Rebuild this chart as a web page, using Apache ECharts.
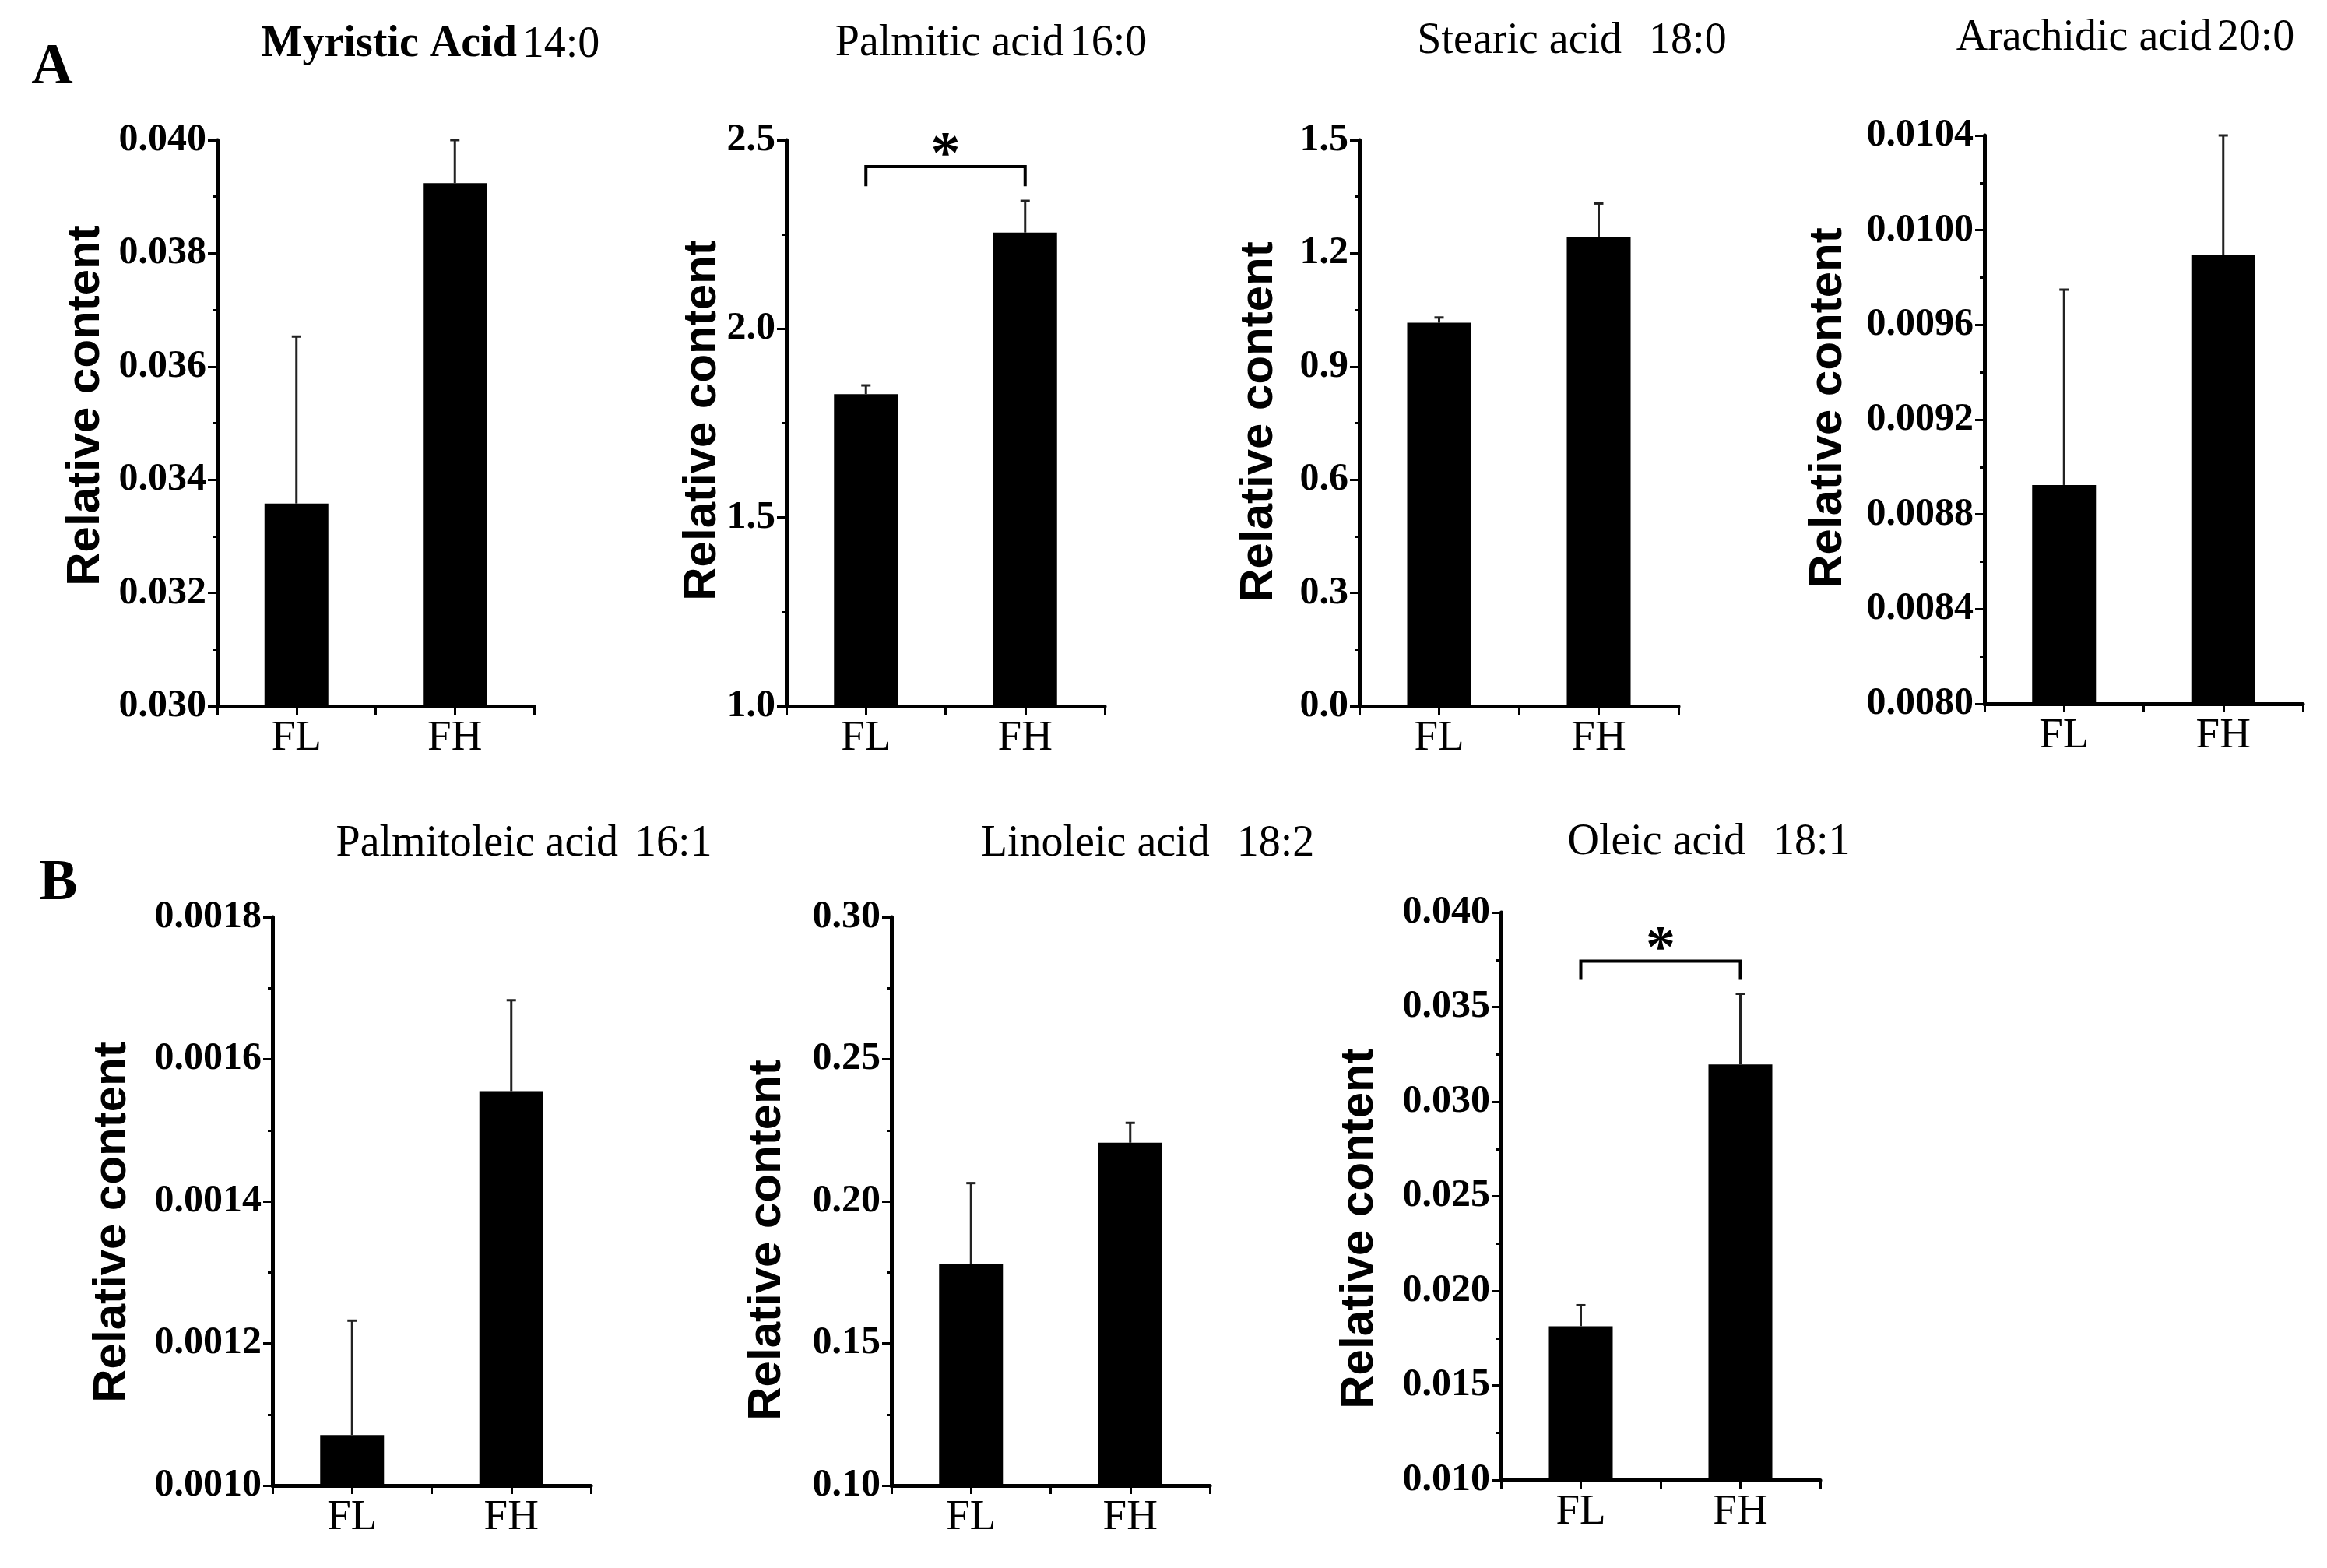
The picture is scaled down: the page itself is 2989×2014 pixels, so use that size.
<!DOCTYPE html>
<html>
<head>
<meta charset="utf-8">
<script src="https://cdn.jsdelivr.net/npm/echarts@6/dist/echarts.min.js"></script>
<style>
html, body { margin: 0; padding: 0; background: #fff; }
#main { width: 2989px; height: 2014px; }
</style>
</head>
<body>
<div id="main"></div>
<script>
// data
var categories = ['FL', 'FH'];
var catPos = [0.5, 1.5];

var myristic = [0.03358, 0.03924];
var myristicErr = [0.00295, 0.00076];
var palmitic = [1.827, 2.255];
var palmiticErr = [0.023, 0.084];
var stearic = [1.016, 1.244];
var stearicErr = [0.014, 0.088];
var arachidic = [0.008924, 0.009897];
var arachidicErr = [0.000825, 0.000503];
var palmitoleic = [0.001071, 0.001555];
var palmitoleicErr = [0.000161, 0.000128];
var linoleic = [0.1779, 0.2206];
var linoleicErr = [0.0285, 0.0070];
var oleic = [0.01813, 0.03197];
var oleicErr = [0.00111, 0.00373];

// significance brackets: [from, to, bracket value, leg end value]
var palmiticSig = [0.5, 1.5, 2.430, 2.378];
var oleicSig = [0.5, 1.5, 0.03743, 0.03644];

// axis ranges: [min, max, interval, decimals]
var myristicAxis = [0.030, 0.040, 0.002, 3];
var palmiticAxis = [1.0, 2.5, 0.5, 1];
var stearicAxis = [0.0, 1.5, 0.3, 1];
var arachidicAxis = [0.0080, 0.0104, 0.0004, 4];
var palmitoleicAxis = [0.0010, 0.0018, 0.0002, 4];
var linoleicAxis = [0.10, 0.30, 0.05, 2];
var oleicAxis = [0.010, 0.040, 0.005, 3];

var yName = 'Relative content';

var panels = [
    {name: 'Myristic Acid', ratio: '14:0', sep: '', bold: true, vals: myristic, errs: myristicErr, axis: myristicAxis, sig: null,
     grid: [279, 180, 407, 727], label: [110, 521], title: [553, 77]},
    {name: 'Palmitic acid', ratio: '16:0', sep: '', vals: palmitic, errs: palmiticErr, axis: palmiticAxis, sig: palmiticSig,
     grid: [1010, 180, 409, 727], label: [902, 540], title: [1273, 75]},
    {name: 'Stearic acid', ratio: '18:0', sep: '  ', vals: stearic, errs: stearicErr, axis: stearicAxis, sig: null,
     grid: [1746, 180, 410, 727], label: [1617, 542], title: [2019, 72]},
    {name: 'Arachidic acid', ratio: '20:0', sep: '', vals: arachidic, errs: arachidicErr, axis: arachidicAxis, sig: null,
     grid: [2549, 174, 409, 730], label: [2348, 524], title: [2730, 68]},
    {name: 'Palmitoleic acid', ratio: '16:1', sep: ' ', vals: palmitoleic, errs: palmitoleicErr, axis: palmitoleicAxis, sig: null,
     grid: [350, 1178, 409, 730], label: [144, 1570], title: [673, 1103]},
    {name: 'Linoleic acid', ratio: '18:2', sep: '  ', vals: linoleic, errs: linoleicErr, axis: linoleicAxis, sig: null,
     grid: [1145, 1178, 409, 730], label: [985, 1593], title: [1474, 1103]},
    {name: 'Oleic acid', ratio: '18:1', sep: '  ', vals: oleic, errs: oleicErr, axis: oleicAxis, sig: oleicSig,
     grid: [1928, 1172, 410, 729], label: [1746, 1578], title: [2195, 1101]}
];

var serif = '"Liberation Serif", "Times New Roman", serif';
var sans = '"Liberation Sans", Arial, sans-serif';

var grids = [], xAxes = [], yAxes = [], series = [], graphics = [];

panels.forEach(function (p, i) {
    grids.push({
        left: p.grid[0], top: p.grid[1], width: p.grid[2], height: p.grid[3],
        outerBoundsMode: 'none'
    });
    xAxes.push({
        type: 'value', gridIndex: i, min: 0, max: 2, interval: 0.5,
        axisLine: {onZero: false, lineStyle: {color: '#000', width: 5}},
        axisTick: {show: true, length: 11, lineStyle: {color: '#000', width: 3}},
        splitLine: {show: false},
        axisLabel: {
            margin: 14, color: '#000', fontFamily: serif, fontSize: 55,
            formatter: function (v) {
                var k = catPos.indexOf(v);
                return k >= 0 ? categories[k] : '';
            }
        }
    });
    yAxes.push({
        type: 'value', gridIndex: i,
        min: p.axis[0], max: p.axis[1], interval: p.axis[2],
        axisLine: {show: true, onZero: false, lineStyle: {color: '#000', width: 5}},
        axisTick: {show: true, length: 12, lineStyle: {color: '#000', width: 3}},
        minorTick: {show: true, splitNumber: 2, length: 6, lineStyle: {color: '#000', width: 3}},
        splitLine: {show: false},
        axisLabel: {
            margin: 14, color: '#000', fontFamily: serif, fontSize: 50, fontWeight: 'bold',
            formatter: function (v) { return v.toFixed(p.axis[3]); }
        }
    });
    series.push({
        type: 'bar', xAxisIndex: i, yAxisIndex: i, barWidth: 82,
        itemStyle: {color: '#000'},
        data: p.vals.map(function (v, j) { return [catPos[j], v]; })
    });
    series.push({
        type: 'custom', xAxisIndex: i, yAxisIndex: i, z: 5,
        data: p.vals.map(function (v, j) { return [catPos[j], v, v + p.errs[j]]; }),
        encode: {x: 0, y: [1, 2]},
        renderItem: function (params, api) {
            var lo = api.coord([api.value(0), api.value(1)]);
            var hi = api.coord([api.value(0), api.value(2)]);
            var st = {stroke: '#222', lineWidth: 3};
            return {
                type: 'group',
                children: [
                    {type: 'line', shape: {x1: lo[0], y1: lo[1], x2: hi[0], y2: hi[1]}, style: st},
                    {type: 'line', shape: {x1: hi[0] - 6, y1: hi[1], x2: hi[0] + 6, y2: hi[1]}, style: st}
                ]
            };
        }
    });
    if (p.sig) {
        series.push({
            type: 'custom', xAxisIndex: i, yAxisIndex: i, z: 6,
            data: [p.sig],
            encode: {x: [0, 1], y: [2, 3]},
            renderItem: function (params, api) {
                var a = api.coord([api.value(0), api.value(3)]);
                var b = api.coord([api.value(0), api.value(2)]);
                var c = api.coord([api.value(1), api.value(2)]);
                var d = api.coord([api.value(1), api.value(3)]);
                return {
                    type: 'group',
                    children: [
                        {type: 'polyline', shape: {points: [a, b, c, d]},
                         style: {stroke: '#000', lineWidth: 4, fill: null}},
                        {type: 'text', x: (b[0] + c[0]) / 2, y: b[1] - 13,
                         style: {text: '*', fill: '#000', font: 'bold 76px ' + serif,
                                 align: 'center', verticalAlign: 'middle'}}
                    ]
                };
            }
        });
    }
    graphics.push({
        type: 'text', x: p.label[0], y: p.label[1], rotation: Math.PI / 2,
        style: {text: yName, fill: '#000', font: 'bold 60px ' + sans,
                align: 'center', verticalAlign: 'middle'}
    });
    graphics.push({
        type: 'text', x: p.title[0], y: p.title[1] - 19,
        style: {
            text: '{n|' + p.name + p.sep + '}{r|' + p.ratio + '}',
            align: 'center', verticalAlign: 'middle',
            rich: {
                n: {fontFamily: serif, fontSize: 56, fontWeight: p.bold ? 'bold' : 'normal', fill: '#000'},
                r: {fontFamily: serif, fontSize: 56, fill: '#000', padding: [0, 0, 0, 7]}
            }
        }
    });
});

graphics.push({
    type: 'text', x: 67, y: 88,
    style: {text: 'A', fill: '#000', font: 'bold 74px ' + serif, align: 'center', verticalAlign: 'middle'}
});
graphics.push({
    type: 'text', x: 75, y: 1136,
    style: {text: 'B', fill: '#000', font: 'bold 74px ' + serif, align: 'center', verticalAlign: 'middle'}
});

var myChart = echarts.init(document.getElementById('main'));
myChart.setOption({
    backgroundColor: '#fff',
    animation: false,
    grid: grids,
    xAxis: xAxes,
    yAxis: yAxes,
    series: series,
    graphic: graphics
});
</script>
</body>
</html>
